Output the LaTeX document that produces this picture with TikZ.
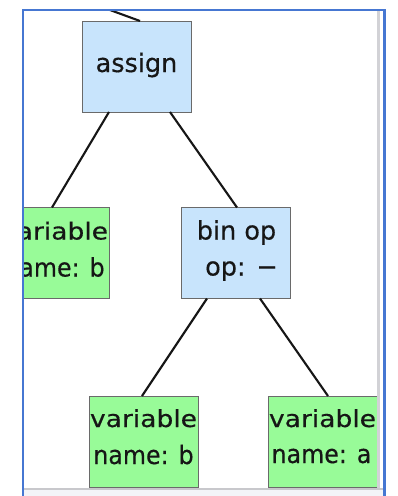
\documentclass[tikz,border=0pt]{standalone}
\usepackage{fontspec}
\setmainfont[FakeBold=0.4]{DejaVu Sans}
\usetikzlibrary{calc}
\definecolor{opblue}{HTML}{C8E4FC}
\definecolor{leafgreen}{HTML}{98FB98}
\definecolor{boxline}{HTML}{6A6A6A}
\definecolor{framecol}{HTML}{4677D2}
\definecolor{barline}{HTML}{D2D2D6}
\definecolor{stripline}{HTML}{C8C8CC}
\definecolor{strip}{HTML}{F3F4F8}
\definecolor{ink}{HTML}{161616}
\tikzset{
  treebox/.style={draw=boxline, line width=1pt, minimum width=109pt, minimum height=91pt, inner sep=0pt, outer sep=0pt},
  opbox/.style={treebox, fill=opblue},
  leafbox/.style={treebox, fill=leafgreen},
  lbl/.style={anchor=base, inner sep=0pt, outer sep=0pt, text=ink, font=\fontsize{25.5}{30}\selectfont},
  edge/.style={draw=ink, line width=2.1pt},
}
% the two caption lines of a variable box are set slightly wide and slightly narrow
\newcommand{\wideline}[1]{\scalebox{1.04}[0.92]{#1}}
\newcommand{\narrowline}[1]{\scalebox{0.93}[1]{#1}}
\begin{document}
\begin{tikzpicture}[x=1pt,y=-1pt]
\useasboundingbox (0,0) rectangle (398,496);
\fill[white] (0,0) rectangle (398,496);

\begin{scope}
  \clip (24,11) rectangle (383,488);
  % tree boxes
  \node[opbox]   (assign)  at (136.5,66.5) {};
  \node[leafbox] (leftvar) at (54.5,253)   {};
  \node[opbox]   (binop)   at (235.5,253)  {};
  \node[leafbox] (varb)    at (143.5,441.5) {};
  \node[leafbox] (vara)    at (322.5,441.5) {};

  % box captions
  \node[lbl] (assign-t)   at ($(assign.north)+(0,51)$)  {assign};
  \node[lbl] (leftvar-t1) at ($(leftvar.north)+(0,32)$) {\wideline{variable}};
  \node[lbl] (leftvar-t2) at ($(leftvar.north)+(0,69)$) {\narrowline{name: b}};
  \node[lbl] (binop-t1)   at ($(binop.north)+(1,32)$)   {bin op};
  \node[lbl] (binop-t2)   at ($(binop.north)+(6,68)$)   {op: −};
  \node[lbl] (varb-t1)    at ($(varb.north)+(0,31)$)    {\wideline{variable}};
  \node[lbl] (varb-t2)    at ($(varb.north)+(0,68)$)    {\narrowline{name: b}};
  \node[lbl] (vara-t1)    at ($(vara.north)+(0,31)$)    {\wideline{variable}};
  \node[lbl] (vara-t2)    at ($(vara.north)+(-1,67)$)   {\narrowline{name: a}};

  % connectors
  \coordinate (parent) at (110,10);
  \draw[edge] (parent) -- ($(assign.north west)+(58,0)$);
  \draw[edge] ($(assign.south west)+(27,0)$) -- ($(leftvar.north west)+(52,0)$);
  \draw[edge] ($(assign.south west)+(88,0)$) -- ($(binop.north west)+(56,0)$);
  \draw[edge] ($(binop.south west)+(26,0)$) -- ($(varb.north west)+(53,0)$);
  \draw[edge] ($(binop.south west)+(79,0)$) -- ($(vara.north west)+(60,0)$);
\end{scope}

% scroll pane edges
\fill[barline] (377,11) rectangle (380,488);
\fill[strip] (24,489) rectangle (383,496);
\fill[stripline] (24,488) rectangle (383,490);

% outer frame
\draw[framecol, line width=2.8pt] (23,500) -- (23,10) -- (384.7,10) -- (384.7,500);
\end{tikzpicture}
\end{document}
